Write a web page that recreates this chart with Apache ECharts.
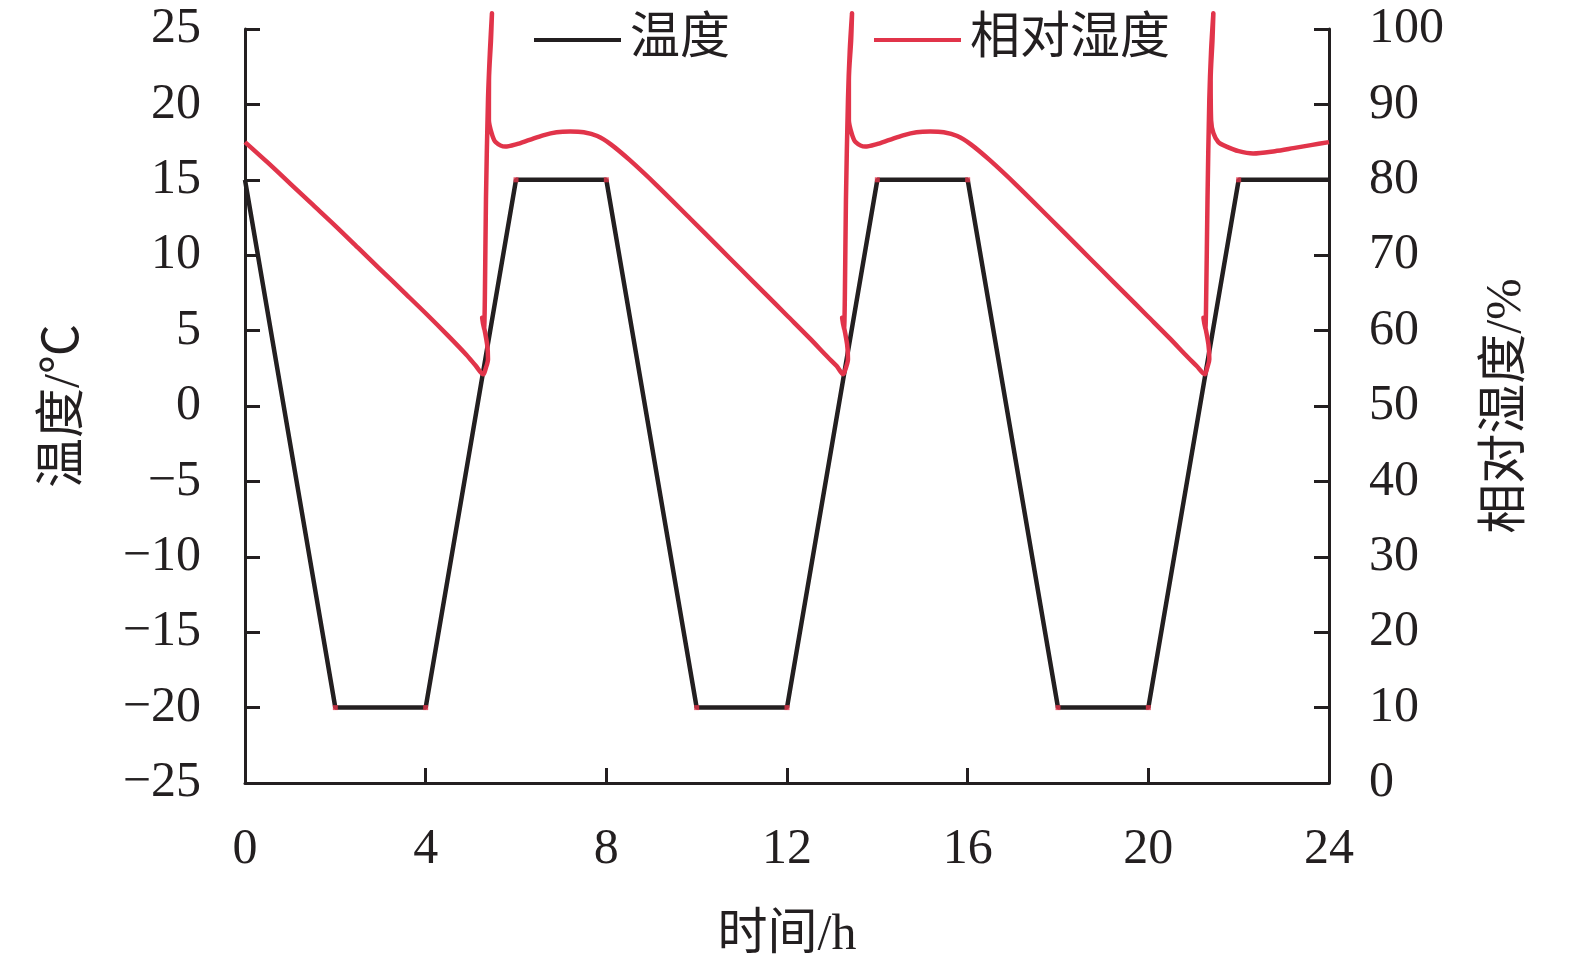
<!DOCTYPE html>
<html>
<head>
<meta charset="utf-8">
<script src="https://cdn.jsdelivr.net/npm/echarts@6/dist/echarts.min.js"></script>
<style>
html,body{margin:0;padding:0;background:#fff;}
#chart{width:1575px;height:966px;}
</style>
</head>
<body>
<div id="chart"></div>
<script>
// Temperature profile (time h, temperature °C)
const tempTime = [0, 2, 4, 6, 8, 10, 12, 14, 16, 18, 20, 22, 24];
const tempValue = [15, -20, -20, 15, 15, -20, -20, 15, 15, -20, -20, 15, 15];

// Relative humidity (time h, RH %) in drawing order
const rhTime = [
  0, 0.5, 1, 1.5, 2, 2.5, 3, 3.5, 4, 4.5, 4.9, 5.1, 5.276,
  5.33, 5.38, 5.36, 5.25, 5.29, 5.31, 5.335, 5.38, 5.424, 5.468, 5.446, 5.402, 5.40, 5.47, 5.55, 5.76,
  6.0, 6.3, 6.6, 6.9, 7.2, 7.5, 7.8, 8.1, 8.52, 9.11, 9.85, 10.5, 11, 11.5, 12, 12.5, 12.9, 13.1, 13.245,
  13.30, 13.35, 13.33, 13.22, 13.26, 13.28, 13.305, 13.35, 13.39, 13.44, 13.42, 13.37, 13.37, 13.44, 13.52, 13.73,
  13.97, 14.27, 14.57, 14.87, 15.17, 15.47, 15.77, 16.07, 16.49, 17.08, 17.82, 18.47, 18.97, 19.47, 19.97, 20.47, 20.87, 21.07, 21.25,
  21.30, 21.35, 21.33, 21.22, 21.26, 21.28, 21.31, 21.35, 21.39, 21.44, 21.42, 21.38, 21.39, 21.44, 21.55, 21.73,
  22.0, 22.32, 22.8, 23.21, 23.6, 24
];
const rhValue = [
  85.0, 82.3, 79.5, 76.7, 73.9, 71.0, 68.1, 65.2, 62.3, 59.3, 56.8, 55.4, 54.2,
  55.0, 56.2, 58.2, 61.7, 60.1, 64.1, 77.4, 90.6, 97.2, 102.1, 98.5, 93.2, 87.9, 86.0, 85.0, 84.4,
  84.7, 85.3, 85.9, 86.3, 86.4, 86.3, 85.8, 84.7, 82.6, 79.3, 74.9, 71.0, 68.0, 65.0, 62.0, 59.0, 56.5, 55.3, 54.2,
  55.0, 56.2, 58.2, 61.7, 60.1, 64.1, 77.4, 90.6, 97.2, 102.1, 98.5, 93.2, 87.9, 86.0, 85.0, 84.4,
  84.7, 85.3, 85.9, 86.3, 86.4, 86.3, 85.8, 84.7, 82.6, 79.3, 74.9, 71.0, 68.0, 65.0, 62.0, 59.0, 56.5, 55.3, 54.2,
  55.0, 56.2, 58.2, 61.7, 60.1, 64.1, 77.4, 90.6, 97.2, 102.1, 98.5, 93.2, 87.9, 86.2, 85.0, 84.4,
  83.8, 83.5, 83.8, 84.2, 84.6, 85.0
];

const seriesNames = ['温度', '相对湿度'];
const xName = '时间/h';
const yLeftName = '温度/℃';
const yRightName = '相对湿度/%';

const BLACK = '#231f20';
const RED = '#e1344a';
const FONT = '"Liberation Serif", "Noto Sans CJK SC", serif';

const tempData = tempTime.map((t, i) => [t, tempValue[i]]);
const rhData = rhTime.map((t, i) => [t, rhValue[i]]);
const cornerData = tempData.filter(d => d[0] > 0 && d[0] < 24);

const minus = v => String(v).replace('-', '\u2212');

const chart = echarts.init(document.getElementById('chart'));
chart.setOption({
  animation: false,
  backgroundColor: '#fff',
  textStyle: { fontFamily: FONT },
  grid: { left: 245, right: 246, top: 29, bottom: 182 },
  legend: {
    left: 529, top: 10,
    icon: 'rect',
    itemWidth: 87, itemHeight: 4, itemGap: 144,
    textStyle: { fontFamily: FONT, fontSize: 50, color: '#231f20', padding: [0, 0, 0, 4] },
    data: [
      { name: seriesNames[0], itemStyle: { color: BLACK } },
      { name: seriesNames[1], itemStyle: { color: RED } }
    ]
  },
  xAxis: {
    type: 'value', min: 0, max: 24, interval: 4,
    name: xName, nameLocation: 'middle', nameGap: 128,
    nameTextStyle: { fontFamily: FONT, fontSize: 50, color: '#231f20' },
    axisLine: { onZero: false, lineStyle: { color: BLACK, width: 3 } },
    axisTick: { inside: true, length: 15, lineStyle: { color: BLACK, width: 3 } },
    axisLabel: { margin: 42, fontSize: 50, color: '#231f20', fontFamily: FONT },
    splitLine: { show: false }
  },
  yAxis: [
    {
      type: 'value', min: -25, max: 25, interval: 5, position: 'left',
      name: yLeftName, nameLocation: 'middle', nameGap: 155, nameRotate: 90,
      nameTextStyle: { fontFamily: FONT, fontSize: 50, color: '#231f20' },
      axisLine: { show: true, onZero: false, lineStyle: { color: BLACK, width: 3 } },
      axisTick: { show: true, inside: true, length: 15, lineStyle: { color: BLACK, width: 3 } },
      axisLabel: { margin: 44, fontSize: 50, color: '#231f20', fontFamily: FONT, formatter: minus },
      splitLine: { show: false }
    },
    {
      type: 'value', min: 0, max: 100, interval: 10, position: 'right',
      name: yRightName, nameLocation: 'middle', nameGap: 153, nameRotate: 90,
      nameTextStyle: { fontFamily: FONT, fontSize: 50, color: '#231f20' },
      axisLine: { show: true, onZero: false, lineStyle: { color: BLACK, width: 3 } },
      axisTick: { show: true, inside: true, length: 15, lineStyle: { color: BLACK, width: 3 } },
      axisLabel: { margin: 40, fontSize: 50, color: '#231f20', fontFamily: FONT },
      splitLine: { show: false }
    }
  ],
  series: [
    {
      name: seriesNames[0], type: 'line', yAxisIndex: 0, data: tempData,
      symbol: 'none', lineStyle: { color: BLACK, width: 4.5 }, itemStyle: { color: BLACK }, z: 3
    },
    {
      type: 'scatter', yAxisIndex: 0, data: cornerData, symbol: 'rect', symbolSize: 5,
      itemStyle: { color: RED }, z: 4, silent: true
    },
    {
      name: seriesNames[1], type: 'line', yAxisIndex: 1, data: rhData, clip: false, smooth: 0.3,
      symbol: 'none', lineStyle: { color: RED, width: 4.5, join: 'round' }, itemStyle: { color: RED }, z: 5
    }
  ]
});
</script>
</body>
</html>
